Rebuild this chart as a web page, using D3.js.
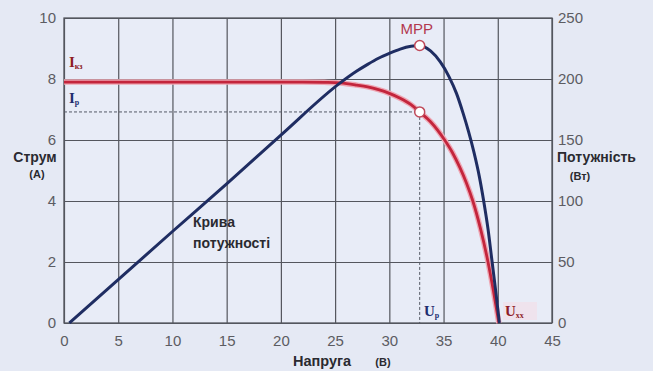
<!DOCTYPE html>
<html><head><meta charset="utf-8">
<script src="https://cdn.jsdelivr.net/npm/d3@7"></script>
<style>
html,body{margin:0;padding:0;background:#e5e9f4;}
svg{display:block;font-family:"Liberation Sans",Arial,sans-serif;}
</style></head><body>
<svg id="c" width="653" height="371"></svg>
<script>
// ---- data ----
const xTicks = [0,5,10,15,20,25,30,35,40,45];
const leftTicks = [0,2,4,6,8,10];
const rightTicks = [0,50,100,150,200,250];
// I-V curve (current, A) sampled against voltage (V)
const ivVoltage = [0,5,10,15,20,22,24,25.5,27,28,29,30,31,32,32.8,33.8,35.1,35.8,36.5,37.1,37.7,38.4,39.1,39.6,40.1];
const ivCurrent = [7.9,7.9,7.9,7.9,7.9,7.9,7.89,7.87,7.8,7.74,7.65,7.53,7.37,7.16,6.92,6.6,6.0,5.6,5.1,4.6,4.0,3.1,2.0,1.05,0];
// P-V curve (power, W)
const pvVoltage = [0.5,5,10,15,20,25.5,27,28,29,30,31,32,32.8,33.8,34.7,35.5,36.2,36.8,37.3,37.8,38.3,38.7,39.1,39.45,39.8,40.15];
const pvPower   = [0,35.5,75,114,154,197,206.5,212,217,221,224.5,226.8,227.5,223,214,202,188,172,157,140,120,100,77,52,27,0];
// key points
const mpp = {v:32.8, p:227.5};
const ipPoint = {v:32.8, i:6.92};

// ---- scales ----
const svg = d3.select("#c");
const x = d3.scaleLinear().domain([0,45]).range([64,552]);
const yI = d3.scaleLinear().domain([0,10]).range([323,18]);
const yP = d3.scaleLinear().domain([0,250]).range([323,18]);
const W = 552-64, H = 323-18;
const gridCol = "#54565e", tickCol = "#5c5c62";

svg.append("rect").attr("width",653).attr("height",371).attr("fill","#e5e9f4");
svg.append("rect").attr("x",64).attr("y",18).attr("width",W).attr("height",H).attr("fill","#e8ecf7");

// grid via axes
const gx = svg.append("g").attr("transform","translate(0,323)")
  .call(d3.axisBottom(x).tickValues(xTicks).tickSize(-H).tickFormat(""));
const gy = svg.append("g").attr("transform","translate(64,0)")
  .call(d3.axisLeft(yI).tickValues(leftTicks).tickSize(-W).tickFormat(""));
[gx,gy].forEach(g=>{g.select(".domain").remove(); g.selectAll("line").attr("stroke",gridCol).attr("stroke-width",1.2);});

// border
svg.append("rect").attr("x",64).attr("y",18).attr("width",W).attr("height",H)
  .attr("fill","none").attr("stroke",gridCol).attr("stroke-width",1.3);

// tick labels via axes
const ax = svg.append("g").attr("transform","translate(0,323)")
  .call(d3.axisBottom(x).tickValues(xTicks).tickSize(0).tickPadding(9));
const al = svg.append("g").attr("transform","translate(64,0)")
  .call(d3.axisLeft(yI).tickValues(leftTicks).tickSize(0).tickPadding(8));
const ar = svg.append("g").attr("transform","translate(552,0)")
  .call(d3.axisRight(yP).tickValues(rightTicks).tickSize(0).tickPadding(6));
[ax,al,ar].forEach(g=>{g.select(".domain").remove();
  g.selectAll("text").attr("fill",tickCol).attr("font-size",15).attr("font-family","Liberation Sans, Arial, sans-serif");});
ax.selectAll("text").attr("dy","0.9em");

// dashed guides for operating point
svg.append("line").attr("x1",64).attr("x2",x(ipPoint.v)).attr("y1",yI(ipPoint.i)).attr("y2",yI(ipPoint.i))
  .attr("stroke","#555a66").attr("stroke-width",1).attr("stroke-dasharray","3,2");
svg.append("line").attr("x1",x(ipPoint.v)).attr("x2",x(ipPoint.v)).attr("y1",yI(ipPoint.i)).attr("y2",323)
  .attr("stroke","#555a66").attr("stroke-width",1).attr("stroke-dasharray","3,2");

// curves
const ivData = ivVoltage.map((v,k)=>[v,ivCurrent[k]]);
const pvData = pvVoltage.map((v,k)=>[v,pvPower[k]]);
const lineI = d3.line().x(d=>x(d[0])).y(d=>yI(d[1])).curve(d3.curveMonotoneX);
const lineP = d3.line().x(d=>x(d[0])).y(d=>yP(d[1])).curve(d3.curveMonotoneX);

svg.append("path").attr("d",lineI(ivData)).attr("fill","none").attr("stroke","#eea6b3").attr("stroke-width",5.5);
svg.append("path").attr("d",lineI(ivData)).attr("fill","none").attr("stroke","#c3253c").attr("stroke-width",2.8);
svg.append("path").attr("d",lineP(pvData)).attr("fill","none").attr("stroke","#1f2d62").attr("stroke-width",3);

// markers
svg.append("circle").attr("cx",x(mpp.v)).attr("cy",yP(mpp.p)).attr("r",5)
  .attr("fill","#fff").attr("stroke","#c04a5a").attr("stroke-width",1.5);
svg.append("circle").attr("cx",x(ipPoint.v)).attr("cy",yI(ipPoint.i)).attr("r",5)
  .attr("fill","#fff").attr("stroke","#c04a5a").attr("stroke-width",1.5);

// texts
const T = (tx,ty,s,o)=>{const t=svg.append("text").attr("x",tx).attr("y",ty).text(s);
  Object.entries(o||{}).forEach(([k,v])=>t.attr(k,v)); return t;};
T(x(mpp.v)-3,34,"MPP",{"font-size":15,"fill":"#b2384e","text-anchor":"middle"});
T(193,227,"Крива",{"font-size":14,"font-weight":"bold","fill":"#2a2a30"});
T(193,248,"потужності",{"font-size":14,"font-weight":"bold","fill":"#2a2a30"});

T(35,162,"Струм",{"font-size":14,"font-weight":"bold","fill":"#2a2a30","text-anchor":"middle"});
T(37,178,"(А)",{"font-size":11,"font-weight":"bold","fill":"#2a2a30","text-anchor":"middle"});
T(557,162,"Потужність",{"font-size":14,"font-weight":"bold","fill":"#2a2a30"});
T(580,180,"(Вт)",{"font-size":11,"font-weight":"bold","fill":"#2a2a30","text-anchor":"middle"});
T(293,366,"Напруга",{"font-size":14.5,"font-weight":"bold","fill":"#2a2a30"});
T(383,366,"(В)",{"font-size":11,"font-weight":"bold","fill":"#2a2a30","text-anchor":"middle"});

// subscripted labels
function sub(tx,ty,main,s,col){
  const t=svg.append("text").attr("x",tx).attr("y",ty).attr("fill",col)
    .attr("font-family","Liberation Serif, serif").attr("font-weight","bold");
  t.append("tspan").attr("font-size",15).text(main);
  t.append("tspan").attr("font-size",8).attr("dy",2).text(s);
}
sub(69,67,"I","кз","#8e1c26");
sub(69,103,"I","р","#1f2d70");
sub(424,316,"U","р","#1f2d70");
svg.append("rect").attr("x",503).attr("y",302).attr("width",34).attr("height",18).attr("fill","#f3dde6").attr("opacity",0.6);
sub(505,316,"U","хх","#8e1c26");
</script></body></html>
